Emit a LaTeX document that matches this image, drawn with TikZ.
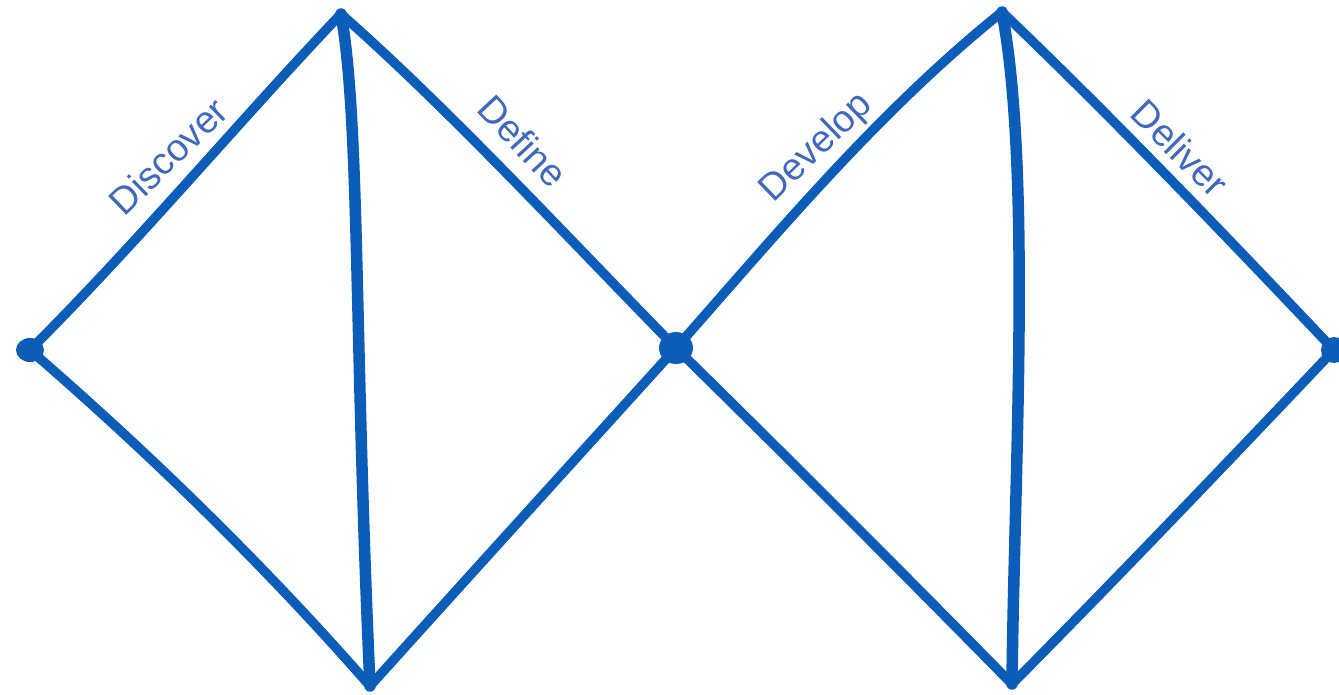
\documentclass[tikz,border=0pt]{standalone}
\usepackage{fontspec}
\setmainfont{Liberation Sans}
\usetikzlibrary{shapes.geometric}
\definecolor{lineblue}{HTML}{0B5DB7}
\definecolor{textblue}{HTML}{4169BA}
\begin{document}
\begin{tikzpicture}[x=1pt,y=-1pt,
  edge/.style={draw=lineblue,line width=9.5pt,line cap=round,line join=round},
  spine/.style={draw=lineblue,line width=11.5pt,line cap=round,line join=round},
  dot/.style={fill=lineblue,ellipse,inner sep=0pt},
  lbl/.style={text=textblue,font=\fontsize{38}{38}\selectfont,inner sep=0pt}]
\useasboundingbox (0,0) rectangle (1339,695);
\coordinate (L) at (30,350);
\coordinate (T1) at (341,14);
\coordinate (B1) at (370,686);
\coordinate (M) at (676,348);
\coordinate (T2) at (1002,12);
\coordinate (B2) at (1012,684);
\coordinate (R) at (1334,350);
% left diamond
\draw[edge] (L) .. controls (140,240) and (240,120) .. (T1);
\draw[edge] (T1) .. controls (450,110) and (570,240) .. (M);
\draw[edge] (L) .. controls (140,445) and (260,560) .. (B1);
\draw[edge] (B1) .. controls (470,575) and (570,465) .. (M);
\draw[spine] (T1) .. controls (360,120) and (354,330) .. (B1);
% right diamond
\draw[edge] (M) .. controls (780,230) and (880,110) .. (T2);
\draw[edge] (T2) .. controls (1110,115) and (1225,235) .. (R);
\draw[edge] (M) .. controls (785,455) and (900,570) .. (B2);
\draw[edge] (B2) .. controls (1115,580) and (1225,465) .. (R);
\draw[spine] (T2) .. controls (1032,170) and (1014,480) .. (B2);
% dots
\node[dot,minimum width=28pt,minimum height=24pt] (dL) at (L) {};
\node[dot,minimum width=34pt,minimum height=32pt] (dM) at (M) {};
\node[dot,minimum width=26pt,minimum height=26pt] (dR) at (R) {};
% labels
\node[lbl,rotate=44] (discover) at (168,156) {Discover};
\node[lbl,rotate=-47] (define) at (523,141) {Define};
\node[lbl,rotate=44] (develop) at (817,148) {Develop};
\node[lbl,rotate=-45] (deliver) at (1180,148) {Deliver};
\end{tikzpicture}
\end{document}
